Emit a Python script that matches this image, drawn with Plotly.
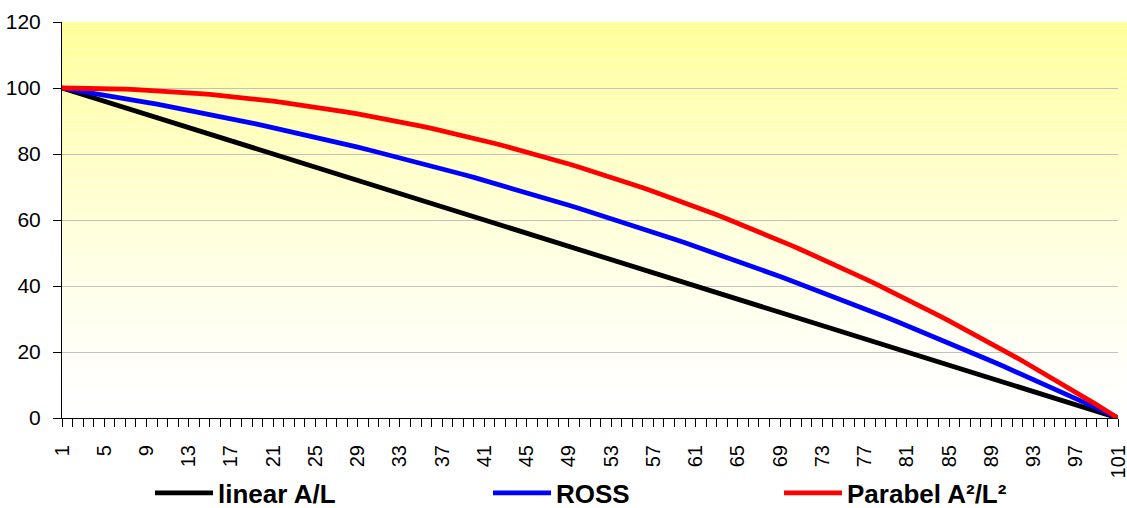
import plotly.graph_objects as go

# Category axis: periods 1..101
categories = list(range(1, 102))
tick_labels = [str(v) for v in range(1, 102, 4)]

linear_al = [
    100, 99, 98, 97, 96, 95, 94, 93, 92, 91, 90, 89, 88, 87, 86, 85, 84, 83, 82, 81,
    80, 79, 78, 77, 76, 75, 74, 73, 72, 71, 70, 69, 68, 67, 66, 65, 64, 63, 62, 61,
    60, 59, 58, 57, 56, 55, 54, 53, 52, 51, 50, 49, 48, 47, 46, 45, 44, 43, 42, 41,
    40, 39, 38, 37, 36, 35, 34, 33, 32, 31, 30, 29, 28, 27, 26, 25, 24, 23, 22, 21,
    20, 19, 18, 17, 16, 15, 14, 13, 12, 11, 10, 9, 8, 7, 6, 5, 4, 3, 2, 1, 0,
]

ross = [
    100, 99.5, 98.98, 98.46, 97.92, 97.38, 96.82, 96.26, 95.68, 95.1,
    94.5, 93.9, 93.28, 92.66, 92.02, 91.38, 90.72, 90.06, 89.38, 88.7,
    88, 87.3, 86.58, 85.86, 85.12, 84.38, 83.62, 82.86, 82.08, 81.3,
    80.5, 79.7, 78.88, 78.06, 77.22, 76.38, 75.52, 74.66, 73.78, 72.9,
    72, 71.1, 70.18, 69.26, 68.32, 67.38, 66.42, 65.46, 64.48, 63.5,
    62.5, 61.5, 60.48, 59.46, 58.42, 57.38, 56.32, 55.26, 54.18, 53.1,
    52, 50.9, 49.78, 48.66, 47.52, 46.38, 45.22, 44.06, 42.88, 41.7,
    40.5, 39.3, 38.08, 36.86, 35.62, 34.38, 33.12, 31.86, 30.58, 29.3,
    28, 26.7, 25.38, 24.06, 22.72, 21.38, 20.02, 18.66, 17.28, 15.9,
    14.5, 13.1, 11.68, 10.26, 8.82, 7.38, 5.92, 4.46, 2.98, 1.5, 0,
]

parabel = [
    100, 99.99, 99.96, 99.91, 99.84, 99.75, 99.64, 99.51, 99.36, 99.19,
    99, 98.79, 98.56, 98.31, 98.04, 97.75, 97.44, 97.11, 96.76, 96.39,
    96, 95.59, 95.16, 94.71, 94.24, 93.75, 93.24, 92.71, 92.16, 91.59,
    91, 90.39, 89.76, 89.11, 88.44, 87.75, 87.04, 86.31, 85.56, 84.79,
    84, 83.19, 82.36, 81.51, 80.64, 79.75, 78.84, 77.91, 76.96, 75.99,
    75, 73.99, 72.96, 71.91, 70.84, 69.75, 68.64, 67.51, 66.36, 65.19,
    64, 62.79, 61.56, 60.31, 59.04, 57.75, 56.44, 55.11, 53.76, 52.39,
    51, 49.59, 48.16, 46.71, 45.24, 43.75, 42.24, 40.71, 39.16, 37.59,
    36, 34.39, 32.76, 31.11, 29.44, 27.75, 26.04, 24.31, 22.56, 20.79,
    19, 17.19, 15.36, 13.51, 11.64, 9.75, 7.84, 5.91, 3.96, 1.99, 0,
]

series = [
    ("linear A/L", linear_al, "#000000", "legend"),
    ("ROSS", ross, "#0000FF", "legend2"),
    ("Parabel A²/L²", parabel, "#FF0000", "legend3"),
]

fig = go.Figure()
for name, values, color, leg in series:
    fig.add_trace(go.Scatter(
        x=categories, y=values, name=name, mode="lines",
        line=dict(color=color, width=4.8),
        legend=leg, showlegend=True,
    ))

W, H = 1127, 508
ML, MR = 62, 9
plot_w = W - ML - MR

# Yellow-to-white vertical gradient behind the plot area (runs to the right page edge)
shapes = []
n_bands = 120
for i in range(n_bands):
    y0 = 120 * i / n_bands
    y1 = 120 * (i + 1) / n_bands
    t = ((y0 + y1) / 2) / 120
    a = t ** 1.4
    b = round(255 - 104 * a)
    shapes.append(dict(
        type="rect", xref="paper", yref="y",
        x0=0, x1=1 + MR / plot_w, y0=y0, y1=y1,
        fillcolor=f"rgb(255,255,{b})", line=dict(width=0), layer="below",
    ))

legend_font = dict(family="Liberation Sans, Arial, sans-serif", size=26, color="#000000", weight="bold")
legend_common = dict(
    orientation="h", xref="container", yref="container",
    yanchor="middle", xanchor="left", y=1 - 493 / H,
    font=legend_font, itemwidth=58, bgcolor="rgba(0,0,0,0)",
    borderwidth=0, tracegroupgap=0, visible=True,
)

fig.update_layout(
    width=W, height=H,
    showlegend=True,
    margin=dict(l=ML, r=MR, t=22, b=90, autoexpand=False),
    paper_bgcolor="white", plot_bgcolor="white",
    font=dict(family="Liberation Sans, Arial, sans-serif", size=21, color="#000000"),
    shapes=shapes,
    legend=dict(legend_common, x=(157 - 7) / W),
    legend2=dict(legend_common, x=(495 - 7) / W),
    legend3=dict(legend_common, x=(786 - 7) / W),
    xaxis=dict(
        range=[0.9999, 101.0001], tickmode="array",
        tickvals=[int(s) for s in tick_labels], ticktext=tick_labels,
        tickangle=-90, ticks="outside", ticklen=8, tickcolor="#000000",
        ticklabelstandoff=10, ticklabeloverflow="allow",
        minor=dict(dtick=1, tick0=1, ticks="outside", ticklen=8, tickcolor="#000000", showgrid=False),
        showline=True, linecolor="#000000", linewidth=1,
        showgrid=False, zeroline=False, automargin=False,
        tickfont=dict(size=20),
    ),
    yaxis=dict(
        range=[0, 120], dtick=20, tick0=0,
        ticks="outside", ticklen=8, tickcolor="#000000",
        ticklabelstandoff=8,
        showline=True, linecolor="#000000", linewidth=1,
        showgrid=True, gridcolor="#C0C0C0", gridwidth=1,
        zeroline=False, automargin=False, tickfont=dict(size=21),
    ),
)

fig.write_html("out.html")
